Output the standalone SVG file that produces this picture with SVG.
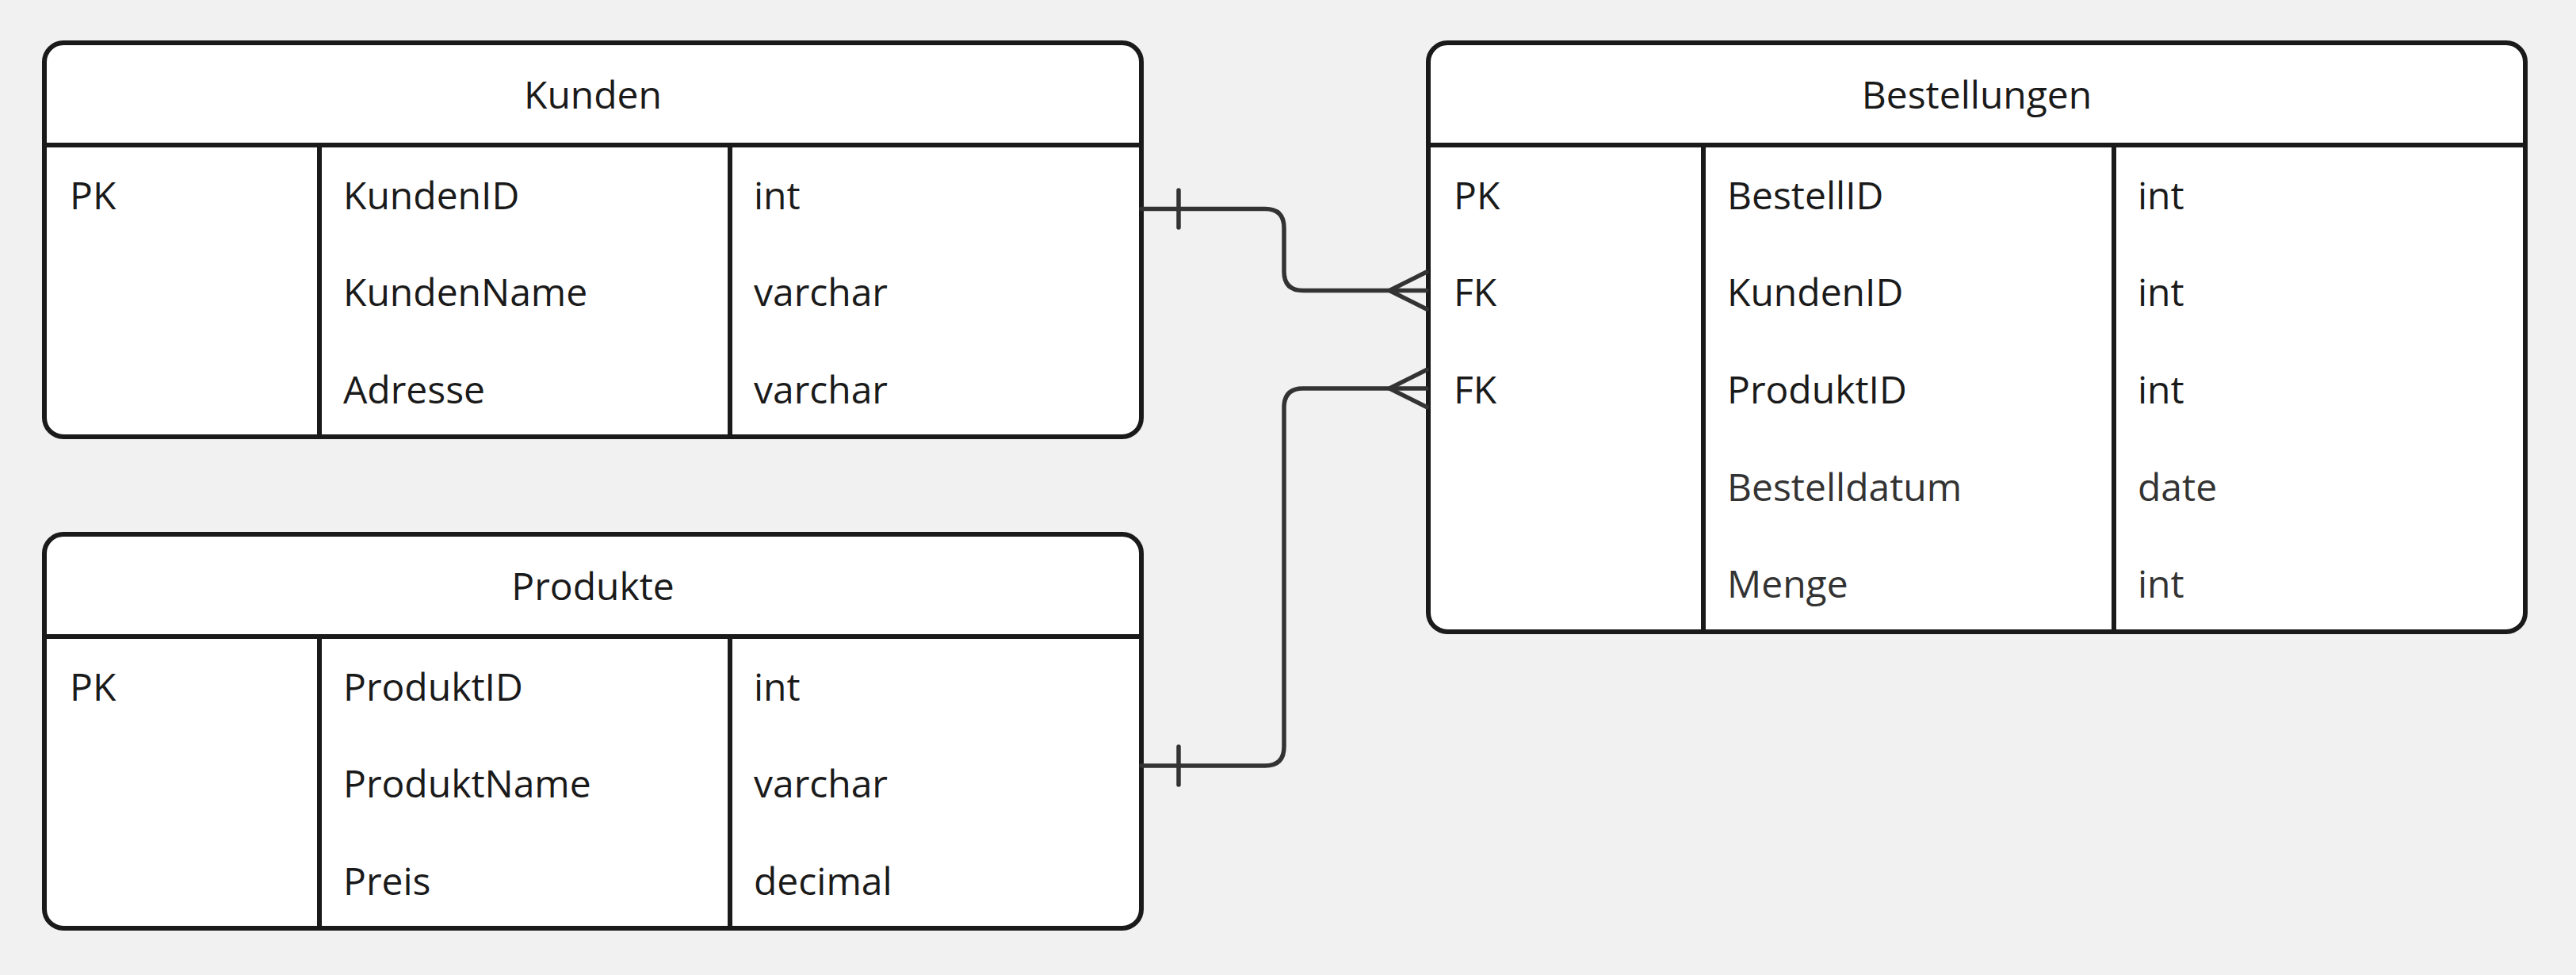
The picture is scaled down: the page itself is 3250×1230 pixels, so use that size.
<svg xmlns="http://www.w3.org/2000/svg" width="3250" height="1230" viewBox="0 0 3250 1230">
<style>
.box{fill:#ffffff;stroke:#1a1a1a;stroke-width:6}
.ln{stroke:#1a1a1a;stroke-width:6;fill:none}
.t{font-family:"Open Sans","Noto Sans","Liberation Sans",sans-serif;font-size:48px;fill:#1a1a1a}
.g{fill:#333333}
.c{text-anchor:middle}
.con{fill:none;stroke:#333333;stroke-width:5.5;stroke-linecap:round;stroke-linejoin:round}
</style>
<rect x="0" y="0" width="3250" height="1230" fill="#f1f1f1"/>
<g id="kunden">
<rect class="box" x="56" y="54" width="1384" height="497" rx="24"/>
<line class="ln" x1="56" y1="183" x2="1440" y2="183"/>
<line class="ln" x1="403" y1="183" x2="403" y2="551"/>
<line class="ln" x1="921" y1="183" x2="921" y2="551"/>
<text class="t c" x="748" y="137">Kunden</text>
<text class="t" x="88" y="263.5">PK</text>
<text class="t" x="433" y="263.5">KundenID</text>
<text class="t" x="951" y="263.5">int</text>
<text class="t" x="433" y="386.2">KundenName</text>
<text class="t" x="951" y="386.2">varchar</text>
<text class="t" x="433" y="508.9">Adresse</text>
<text class="t" x="951" y="508.9">varchar</text>
</g>
<g id="produkte">
<rect class="box" x="56" y="674" width="1384" height="497" rx="24"/>
<line class="ln" x1="56" y1="803" x2="1440" y2="803"/>
<line class="ln" x1="403" y1="803" x2="403" y2="1171"/>
<line class="ln" x1="921" y1="803" x2="921" y2="1171"/>
<text class="t c" x="748" y="757">Produkte</text>
<text class="t" x="88" y="883.5">PK</text>
<text class="t" x="433" y="883.5">ProduktID</text>
<text class="t" x="951" y="883.5">int</text>
<text class="t" x="433" y="1006.2">ProduktName</text>
<text class="t" x="951" y="1006.2">varchar</text>
<text class="t" x="433" y="1128.9">Preis</text>
<text class="t" x="951" y="1128.9">decimal</text>
</g>
<g id="bestellungen">
<rect class="box" x="1802" y="54" width="1384" height="743" rx="24"/>
<line class="ln" x1="1802" y1="183" x2="3186" y2="183"/>
<line class="ln" x1="2149" y1="183" x2="2149" y2="797"/>
<line class="ln" x1="2667" y1="183" x2="2667" y2="797"/>
<text class="t c" x="2494" y="137">Bestellungen</text>
<text class="t" x="1834" y="263.5">PK</text>
<text class="t" x="2179" y="263.5">BestellID</text>
<text class="t" x="2697" y="263.5">int</text>
<text class="t" x="1834" y="386.2">FK</text>
<text class="t" x="2179" y="386.2">KundenID</text>
<text class="t" x="2697" y="386.2">int</text>
<text class="t" x="1834" y="508.9">FK</text>
<text class="t" x="2179" y="508.9">ProduktID</text>
<text class="t" x="2697" y="508.9">int</text>
<text class="t g" x="2179" y="631.6">Bestelldatum</text>
<text class="t g" x="2697" y="631.6">date</text>
<text class="t g" x="2179" y="754.3">Menge</text>
<text class="t g" x="2697" y="754.3">int</text>
</g>
<g id="connectors">
<path class="con" d="M1440 263.5 H1596 Q1620 263.5 1620 287.5 V342.5 Q1620 366.5 1644 366.5 H1800"/>
<path class="con" d="M1487 240 V287"/>
<path class="con" d="M1800 343 L1753 366.5 L1800 390"/>
<path class="con" d="M1440 966 H1596 Q1620 966 1620 942 V514 Q1620 490 1644 490 H1800"/>
<path class="con" d="M1487 942 V990"/>
<path class="con" d="M1800 466.5 L1753 490 L1800 513.5"/>
</g>
</svg>
